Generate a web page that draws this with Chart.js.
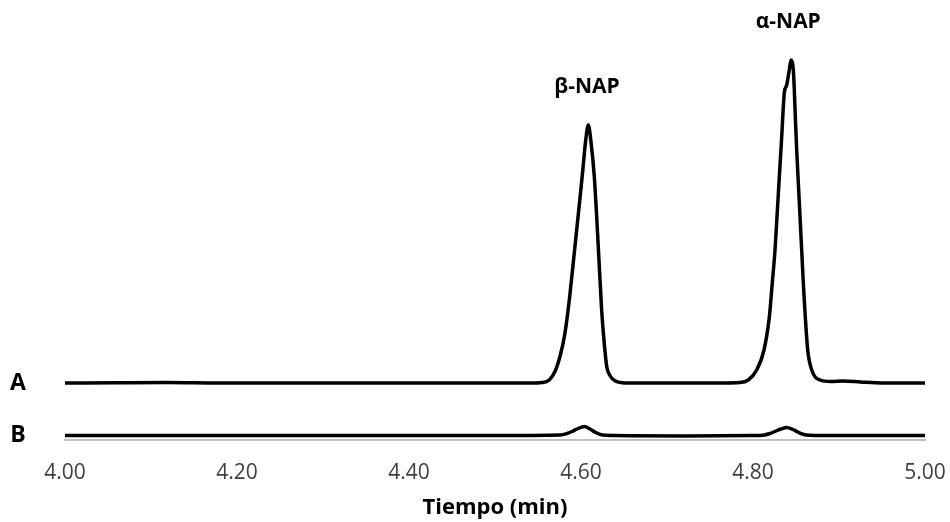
<!DOCTYPE html>
<html>
<head>
<meta charset="utf-8">
<script src="https://cdn.jsdelivr.net/npm/chart.js@4/dist/chart.umd.min.js"></script>
<style>
  html, body { margin: 0; padding: 0; background: #fff; }
</style>
</head>
<body>
<canvas id="chrom" width="950" height="522"></canvas>
<script>
// retention time (min) and detector signal, trace A
const timeA = [4.00, 4.06, 4.12, 4.18, 4.30, 4.45, 4.54,
  4.555, 4.563, 4.570, 4.576, 4.581, 4.586, 4.590, 4.594, 4.598, 4.602, 4.6055,
  4.6085,
  4.6115, 4.6155, 4.620, 4.624, 4.627, 4.630, 4.634, 4.640, 4.648,
  4.665, 4.70, 4.76, 4.785,
  4.7945, 4.8043, 4.8128, 4.819, 4.8224, 4.8256, 4.8295, 4.8333,
  4.8364, 4.8392, 4.8422, 4.8442,
  4.8469, 4.8477, 4.8492, 4.8508, 4.8527, 4.8547, 4.8566, 4.8585, 4.8608, 4.8636,
  4.8683, 4.8779, 4.89, 4.905, 4.925, 4.95, 5.00];
const signalA = [0, 0.3, 0.5, 0, 0, 0, 0,
  0.5, 3, 12, 28, 48, 80, 112, 145, 178, 212, 243,
  258,
  242, 206, 138, 73, 40, 16, 7, 2, 0.3,
  0, 0, 0, 0.5,
  3, 13, 33, 66, 100, 133, 190, 245,
  290, 298, 313, 323,
  313, 300, 266, 233, 200, 166, 133, 100, 66, 33,
  13, 3, 1.5, 2, 1, 0, 0];

// trace B
const timeB = [4.00, 4.30, 4.50, 4.5756, 4.5837, 4.5895, 4.5953, 4.604, 4.6105, 4.616,
  4.622, 4.629, 4.64, 4.72, 4.80, 4.8116, 4.8198, 4.8267, 4.8326, 4.839,
  4.8465, 4.852, 4.858, 4.866, 4.88, 5.00];
const signalB = [0, 0, 0, 0.5, 2, 4, 6.5, 9, 6.5, 3.5,
  1.2, 0.2, 0, -0.5, 0, 0.3, 2, 4.5, 6.5, 8,
  6, 3.5, 1.3, 0.2, 0, 0];

const traceNames = ["A", "B"];
const peakNames = ["β-NAP", "α-NAP"];
const peakTimes = [4.607, 4.841];
const tickValues = [4.0, 4.2, 4.4, 4.6, 4.8, 5.0];

// baseline shift of each trace so they sit one above the other
const offsetA = 57;
const offsetB = 4.5;

const FONT = "'Open Sans'";

function toPoints(times, values, offset) {
  return times.map((t, i) => ({ x: t, y: values[i] + offset }));
}

function peakTop(time) {
  let top = 0;
  for (let i = 0; i < timeA.length; i++) {
    if (Math.abs(timeA[i] - time) < 0.01) top = Math.max(top, signalA[i]);
  }
  return top + offsetA;
}

// trace letters on the left and compound names over the peaks
const labelPlugin = {
  id: "chromLabels",
  afterDatasetsDraw(chart) {
    const { ctx, chartArea, scales: { x, y } } = chart;
    ctx.save();
    ctx.fillStyle = "#000";
    ctx.textAlign = "center";
    ctx.textBaseline = "middle";
    ctx.font = "bold 23px " + FONT;
    chart.data.datasets.forEach((ds) => {
      ctx.fillText(ds.label, chartArea.left - 47, y.getPixelForValue(ds.data[0].y));
    });
    ctx.font = "bold 21px " + FONT;
    peakNames.forEach((name, i) => {
      const px = x.getPixelForValue(peakTimes[i]);
      const py = y.getPixelForValue(peakTop(peakTimes[i]));
      ctx.fillText(name, px, py - 38);
    });
    ctx.restore();
  },
};

function makeTrace(label, times, values, offset) {
  return {
    label: label,
    data: toPoints(times, values, offset),
    borderColor: "#000",
    borderWidth: 3.5,
    pointRadius: 0,
    fill: false,
    cubicInterpolationMode: "monotone",
  };
}

const ctx = document.getElementById("chrom").getContext("2d");
new Chart(ctx, {
  type: "line",
  data: {
    datasets: [
      makeTrace(traceNames[0], timeA, signalA, offsetA),
      makeTrace(traceNames[1], timeB, signalB, offsetB),
    ],
  },
  options: {
    responsive: false,
    animation: false,
    layout: { padding: { left: 65, right: 25, top: 0, bottom: 0 } },
    scales: {
      x: {
        type: "linear",
        min: 4,
        max: 5,
        grid: { display: false, drawTicks: false },
        border: { display: true, color: "#bfbfbf", width: 2 },
        afterBuildTicks: (axis) => {
          axis.ticks = tickValues.map((v) => ({ value: v }));
        },
        // fixed axis band under the plot, labels may overhang the edges
        afterFit: (axis) => {
          axis.height = 82;
          axis.paddingLeft = 0;
          axis.paddingRight = 0;
        },
        ticks: {
          color: "#404040",
          font: { family: FONT, size: 21 },
          padding: 20,
          maxRotation: 0,
          autoSkip: false,
          callback: (v) => v.toFixed(2),
        },
        title: {
          display: true,
          text: "Tiempo (min)",
          color: "#000",
          font: { family: FONT, size: 22, weight: "bold" },
          padding: { top: 9, bottom: 1 },
        },
      },
      y: {
        display: false,
        min: 0,
        max: 440,
      },
    },
    plugins: {
      legend: { display: false },
      tooltip: { enabled: false },
    },
  },
  plugins: [labelPlugin],
});
</script>
</body>
</html>
